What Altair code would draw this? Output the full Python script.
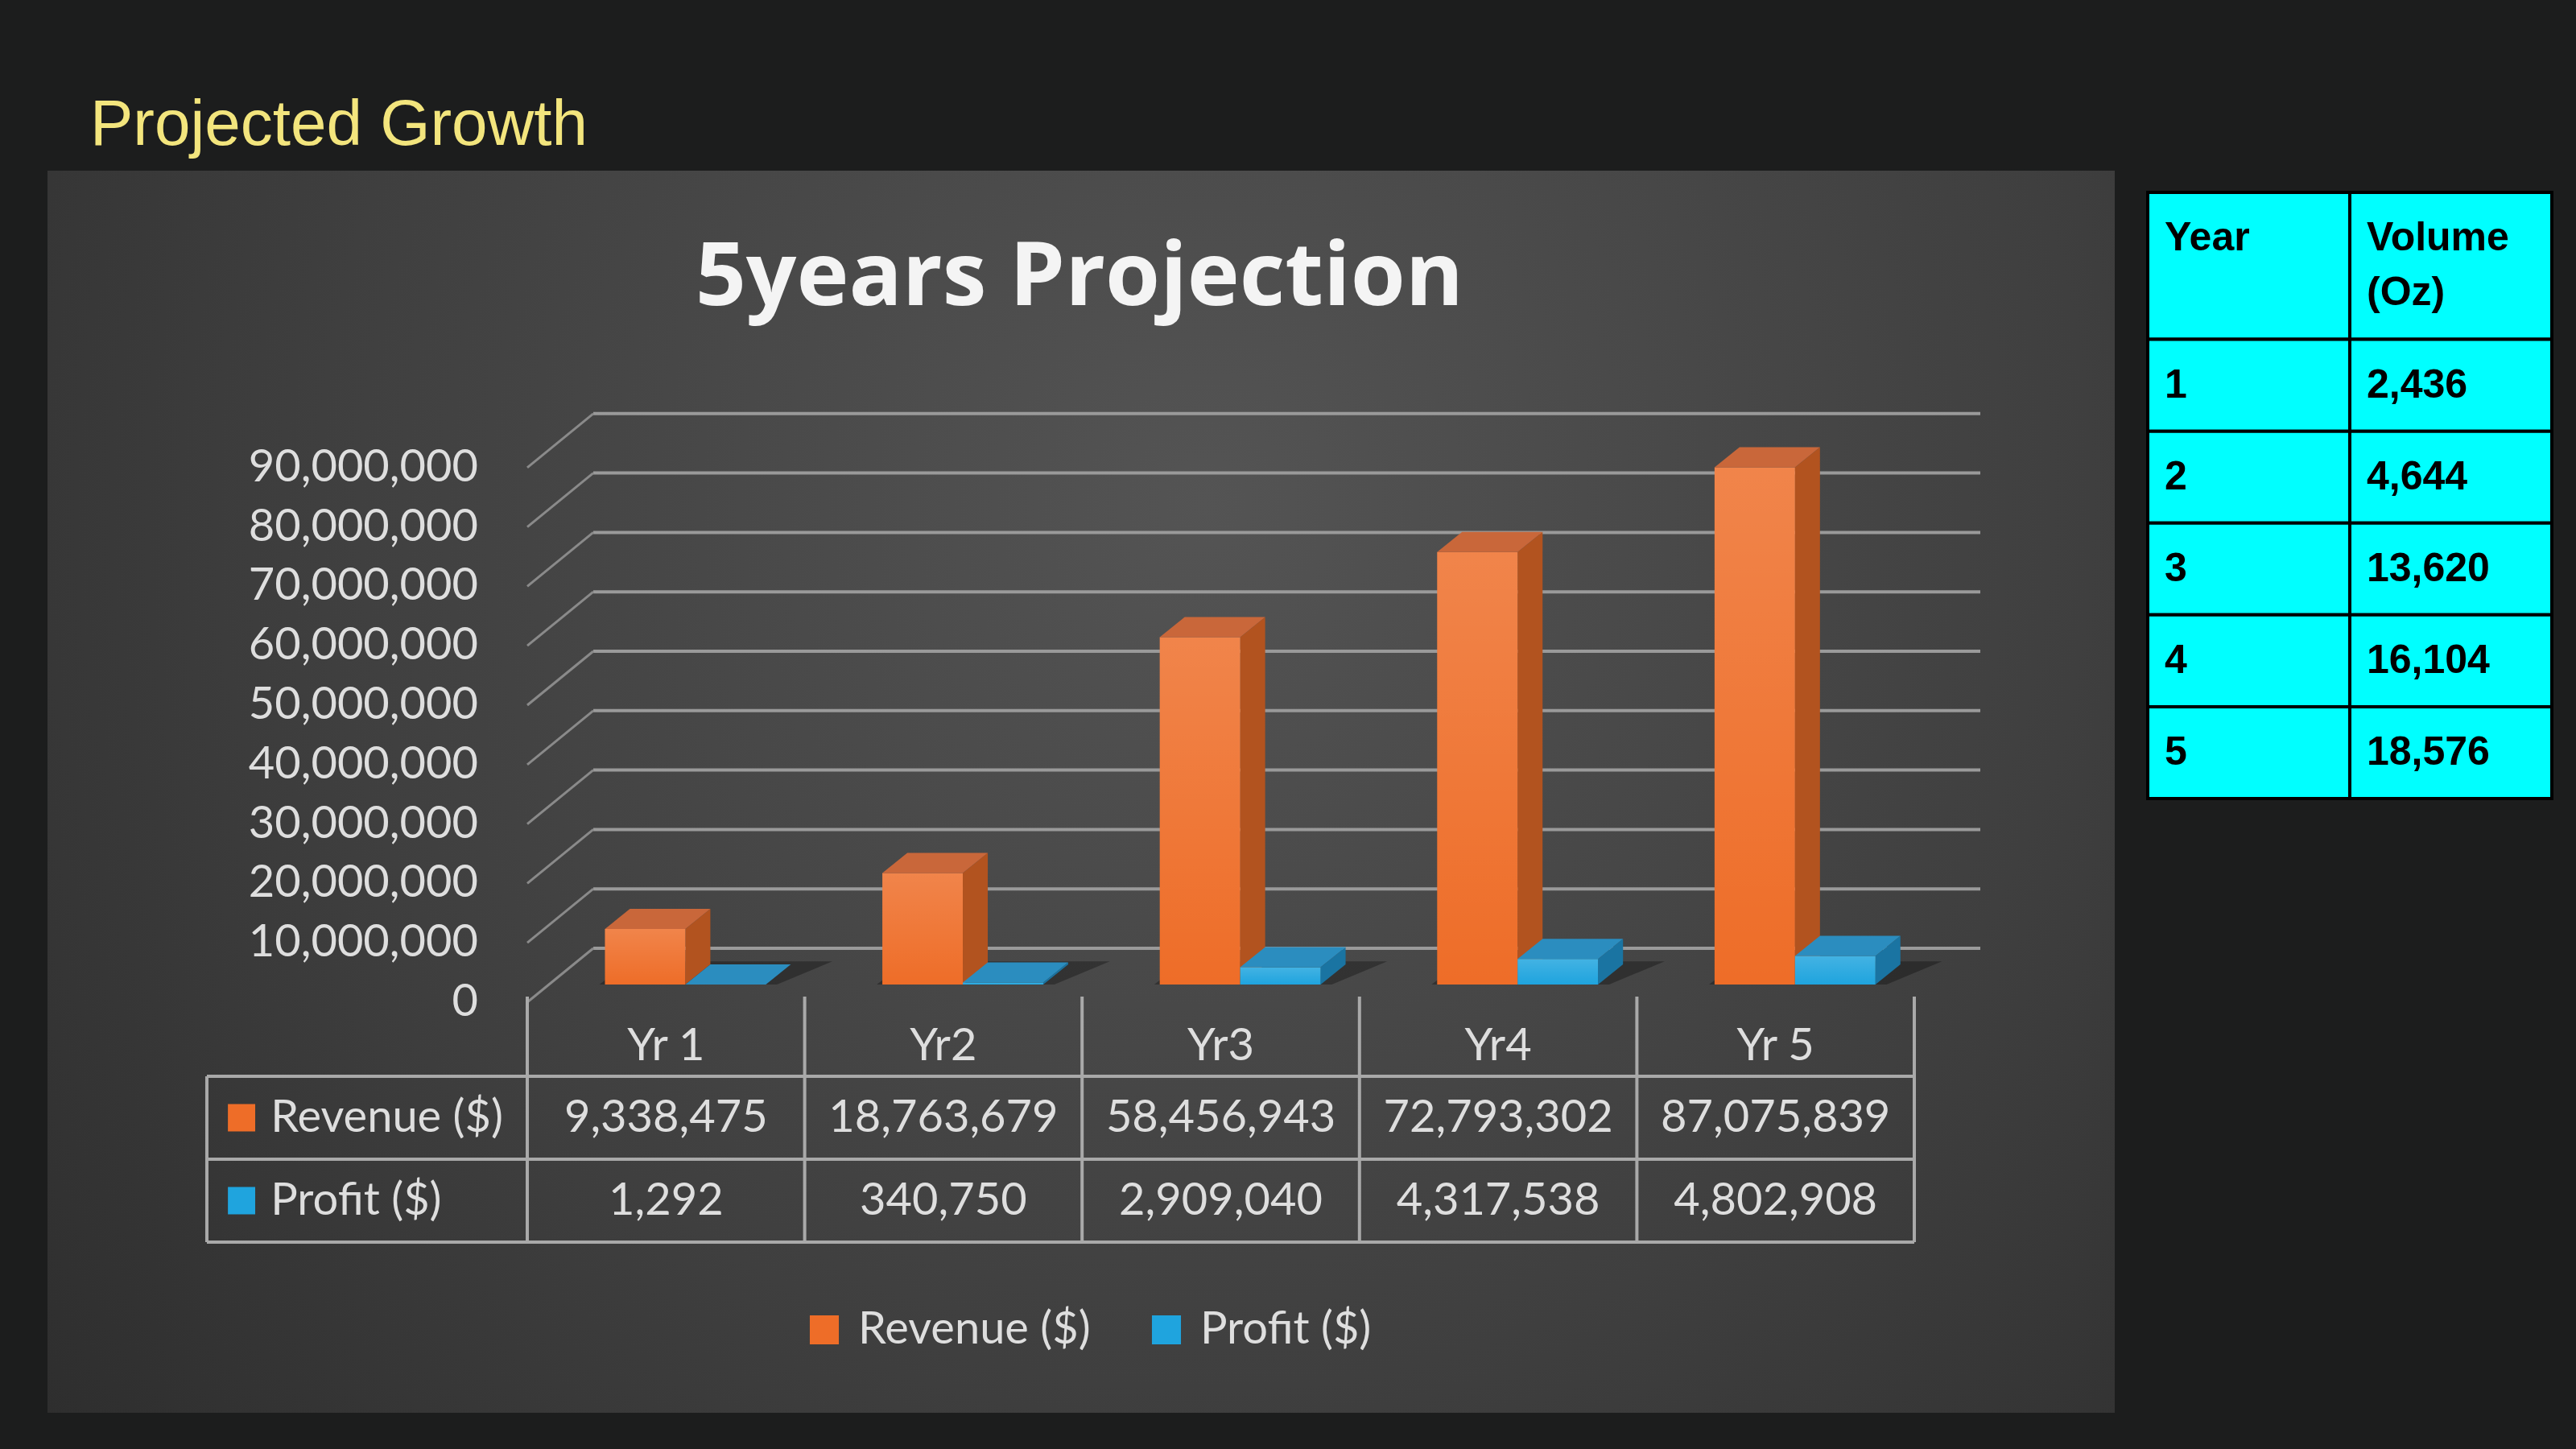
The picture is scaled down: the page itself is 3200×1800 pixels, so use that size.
import altair as alt
import pandas as pd

# ---------------- data ----------------
years = ["Yr 1", "Yr2", "Yr3", "Yr4", "Yr 5"]
revenue = [9338475, 18763679, 58456943, 72793302, 87075839]
profit = [1292, 340750, 2909040, 4317538, 4802908]
series = ["Revenue ($)", "Profit ($)"]
tick_values = [0, 10000000, 20000000, 30000000, 40000000,
               50000000, 60000000, 70000000, 80000000, 90000000]

volume_header = ["Year", "Volume\n(Oz)"]
volume_years = ["1", "2", "3", "4", "5"]
volumes = [2436, 4644, 13620, 16104, 18576]

# ---------------- styling / layout ----------------
W, H = 3200, 1800
BG = "#1c1d1d"
FONT = "Lato"
TXT = "#dedede"
GRID = "#9a9a9a"
TABLE_LINE = "#a9a9a9"

FRONT = {"Revenue ($)": "#ee6d28", "Profit ($)": "#1fa4de"}
SIDE = {"Revenue ($)": "#b2531f", "Profit ($)": "#1a74a2"}
TOP = {"Revenue ($)": "#c9673a", "Profit ($)": "#2b8dbf"}

# category axis: one unit per year, the table columns span -0.5 .. 4.5
x_scale = alt.Scale(domain=[-0.5, 4.5], range=[655, 2378], nice=False, zero=False)
# value axis for the bars (front of the bar block sits on 0)
Y0, Y90 = 1223, 558.8
y_scale = alt.Scale(domain=[0, 90e6], range=[Y0, Y90], nice=False, zero=False)
PX_PER_VAL = (Y0 - Y90) / 90e6
# rows of the data table under the chart
row_scale = alt.Scale(domain=[0, 3], range=[1234, 1543], nice=False, zero=False)
# cyan side table
rt_x = alt.Scale(domain=[0, 2], range=[2668, 3170], nice=False, zero=False)
rt_y = alt.Scale(domain=[0, 6.6], range=[239, 992], nice=False, zero=False)

FRONT_DY = 22      # floor front edge relative to bar front
BACK_DY = -45      # back wall relative to bar front
BACK_DX = 0.238    # back wall shift in category units
DDX = 0.09         # bar depth, category units
DDY = 25 / PX_PER_VAL  # bar depth expressed in value units

slots = {"Revenue ($)": (-0.22, 0.07), "Profit ($)": (0.07, 0.36)}


def one():
    return pd.DataFrame({"k": [0]})


def X(field, scale=x_scale):
    return alt.X(field, type="quantitative", scale=scale, axis=None)


def Y(field, scale=y_scale):
    return alt.Y(field, type="quantitative", scale=scale, axis=None)


# ---------------- frames ----------------
bar_rows = []
for i, yr in enumerate(years):
    for s, vals in zip(series, [revenue, profit]):
        l, r = slots[s]
        bar_rows.append(dict(bar=f"{s}-{i}", series=s, year=yr,
                             xl=i + l, xr=i + r, v=vals[i], zero=0.0))
bars = pd.DataFrame(bar_rows)

top = pd.concat([
    bars.assign(ty=bars.v, tx1=bars.xl, tx2=bars.xr),
    bars.assign(ty=bars.v + DDY, tx1=bars.xl + DDX, tx2=bars.xr + DDX),
])
side = pd.concat([
    bars.assign(sx=bars.xr, sy1=0.0, sy2=bars.v),
    bars.assign(sx=bars.xr + DDX, sy1=DDY, sy2=bars.v + DDY),
])

shadow_rows = []
for i, yr in enumerate(years):
    shadow_rows.append(dict(g=yr, sy=0.0, sx1=i - 0.24, sx2=i + 0.40))
    shadow_rows.append(dict(g=yr, sy=DDY * 1.15, sx1=i - 0.24 + DDX * 1.2, sx2=i + 0.60))
shadow = pd.DataFrame(shadow_rows)

ticks = pd.DataFrame({
    "value": tick_values,
    "label": [f"{int(v):,}" for v in tick_values],
    "xf": -0.5,
    "xb0": -0.5 + BACK_DX,
    "xb1": 4.5 + BACK_DX,
})

# ---------------- layers ----------------
panel = alt.Chart(one()).mark_rect(
    fill={"gradient": "radial", "x1": 0.56, "y1": 0.36, "r1": 0.0,
          "x2": 0.56, "y2": 0.36, "r2": 0.78,
          "stops": [{"offset": 0, "color": "#545454"},
                    {"offset": 0.55, "color": "#3f3f3f"},
                    {"offset": 1, "color": "#2a2a2a"}]}
).encode(x=alt.value(59), x2=alt.value(2627), y=alt.value(212), y2=alt.value(1755))

heading = alt.Chart(one()).mark_text(
    text="Projected Growth", font="Liberation Sans", fontSize=80,
    color="#f3e57d", align="left", baseline="alphabetic"
).encode(x=alt.value(112), y=alt.value(180))

title = alt.Chart(one()).mark_text(
    text="5years Projection", font="Open Sans", fontSize=110, fontWeight="bold",
    color="#f4f4f4", align="center", baseline="alphabetic"
).encode(x=alt.value(1341), y=alt.value(379))

back_grid = alt.Chart(ticks).mark_rule(
    color=GRID, strokeWidth=4, yOffset=BACK_DY, y2Offset=BACK_DY
).encode(x=X("xb0"), x2=alt.X2("xb1"), y=Y("value"), y2=alt.Y2("value"))

diag = alt.Chart(ticks).mark_rule(
    color="#8a8a8a", strokeWidth=3, yOffset=FRONT_DY, y2Offset=BACK_DY
).encode(x=X("xf"), x2=alt.X2("xb0"), y=Y("value"), y2=alt.Y2("value"))

tick_labels = alt.Chart(ticks).mark_text(
    font=FONT, fontSize=56, color=TXT, align="right", baseline="middle", yOffset=FRONT_DY
).encode(x=alt.value(594), y=Y("value"), text="label:N")

floor_shadow = alt.Chart(shadow).mark_area(
    orient="horizontal", color="#000000", opacity=0.3
).encode(y=Y("sy"), x=X("sx1"), x2=alt.X2("sx2"), detail="g:N")


def bar_layers(s):
    b = bars[bars.series == s]
    t = top[top.series == s]
    sd = side[side.series == s]
    front = alt.Chart(b).mark_rect(color=FRONT[s]).encode(
        x=X("xl"), x2=alt.X2("xr"), y=Y("v"), y2=alt.Y2("zero"))
    gloss = alt.Chart(b).mark_rect(
        fill={"gradient": "linear", "x1": 0, "y1": 0, "x2": 0, "y2": 1,
              "stops": [{"offset": 0, "color": "rgba(255,255,255,0.16)"},
                        {"offset": 1, "color": "rgba(255,255,255,0.0)"}]}
    ).encode(x=X("xl"), x2=alt.X2("xr"), y=Y("v"), y2=alt.Y2("zero"))
    side_face = alt.Chart(sd).mark_area(color=SIDE[s], opacity=1).encode(
        x=X("sx"), y=Y("sy1"), y2=alt.Y2("sy2"), detail="bar:N")
    top_face = alt.Chart(t).mark_area(orient="horizontal", color=TOP[s], opacity=1).encode(
        y=Y("ty"), x=X("tx1"), x2=alt.X2("tx2"), detail="bar:N")
    return [side_face, front, gloss, top_face]


# ---------------- data table under the chart ----------------
hlines = pd.DataFrame({"r": [1, 2, 3], "x0": -1.655, "x1": 4.5})
vlines = pd.DataFrame({"c": [-0.5, 0.5, 1.5, 2.5, 3.5, 4.5, -1.655],
                       "r0": [0.04] * 6 + [1.0], "r1": [3.0] * 7})

table_h = alt.Chart(hlines).mark_rule(color=TABLE_LINE, strokeWidth=4).encode(
    x=X("x0"), x2=alt.X2("x1"), y=Y("r", row_scale), y2=alt.Y2("r"))
table_v = alt.Chart(vlines).mark_rule(color=TABLE_LINE, strokeWidth=4).encode(
    x=X("c"), x2=alt.X2("c"), y=Y("r0", row_scale), y2=alt.Y2("r1"))

cells = []
for i, yr in enumerate(years):
    cells.append(dict(x=i, r=0.64, text=yr))
    cells.append(dict(x=i, r=1.5, text=f"{revenue[i]:,}"))
    cells.append(dict(x=i, r=2.5, text=f"{profit[i]:,}"))
cells = pd.DataFrame(cells)
table_text = alt.Chart(cells).mark_text(
    font=FONT, fontSize=56, color=TXT, align="center", baseline="middle"
).encode(x=X("x"), y=Y("r", row_scale), text="text:N")

row_labels = pd.DataFrame({"series": series, "r": [1.5, 2.5],
                           "xs": -1.53, "xt": -1.425})
row_keys = alt.Chart(row_labels).mark_square(size=1150, opacity=1).encode(
    x=X("xs"), y=Y("r", row_scale),
    color=alt.Color("series:N", scale=alt.Scale(domain=series, range=[FRONT[s] for s in series]),
                    legend=alt.Legend(
                        orient="none", legendX=996, legendY=1624, direction="horizontal",
                        title=None, symbolType="square", symbolSize=1300,
                        symbolStrokeWidth=0, symbolOpacity=1, labelFontSize=56,
                        labelFont=FONT, labelColor=TXT, columnPadding=66,
                        labelOffset=14, padding=0, labelLimit=600)))
row_text = alt.Chart(row_labels).mark_text(
    font=FONT, fontSize=56, color=TXT, align="left", baseline="middle"
).encode(x=X("xt"), y=Y("r", row_scale), text="series:N")

# ---------------- cyan volume table ----------------
vt_rows = []
for c, h in enumerate(volume_header):
    vt_rows.append(dict(c0=c, c1=c + 1, r0=0.0, r1=1.6, text=h))
for k, (yr, vol) in enumerate(zip(volume_years, volumes)):
    vt_rows.append(dict(c0=0, c1=1, r0=1.6 + k, r1=2.6 + k, text=yr))
    vt_rows.append(dict(c0=1, c1=2, r0=1.6 + k, r1=2.6 + k, text=f"{vol:,}"))
vt = pd.DataFrame(vt_rows)

vt_cells = alt.Chart(vt).mark_rect(fill="#00ffff", stroke="#000000", strokeWidth=4).encode(
    x=X("c0", rt_x), x2=alt.X2("c1"), y=Y("r0", rt_y), y2=alt.Y2("r1"))
vt_text = alt.Chart(vt).mark_text(
    font="Liberation Sans", fontSize=50, fontWeight="bold", color="#000000",
    align="left", baseline="alphabetic", dx=21, dy=72, lineBreak="\n", lineHeight=68
).encode(x=X("c0", rt_x), y=Y("r0", rt_y), text="text:N")

layers = [panel, heading, back_grid, diag, tick_labels, floor_shadow]
layers += bar_layers("Revenue ($)") + bar_layers("Profit ($)")
layers += [title, table_h, table_v, table_text, row_keys, row_text,
           vt_cells, vt_text]

chart = alt.layer(*layers).resolve_scale(
    x="independent", y="independent", color="independent"
).properties(
    width=W, height=H, padding=0, autosize="none", background=BG
).configure_view(stroke=None)

chart.save("out.html", embed_options={"renderer": "svg", "actions": False})
